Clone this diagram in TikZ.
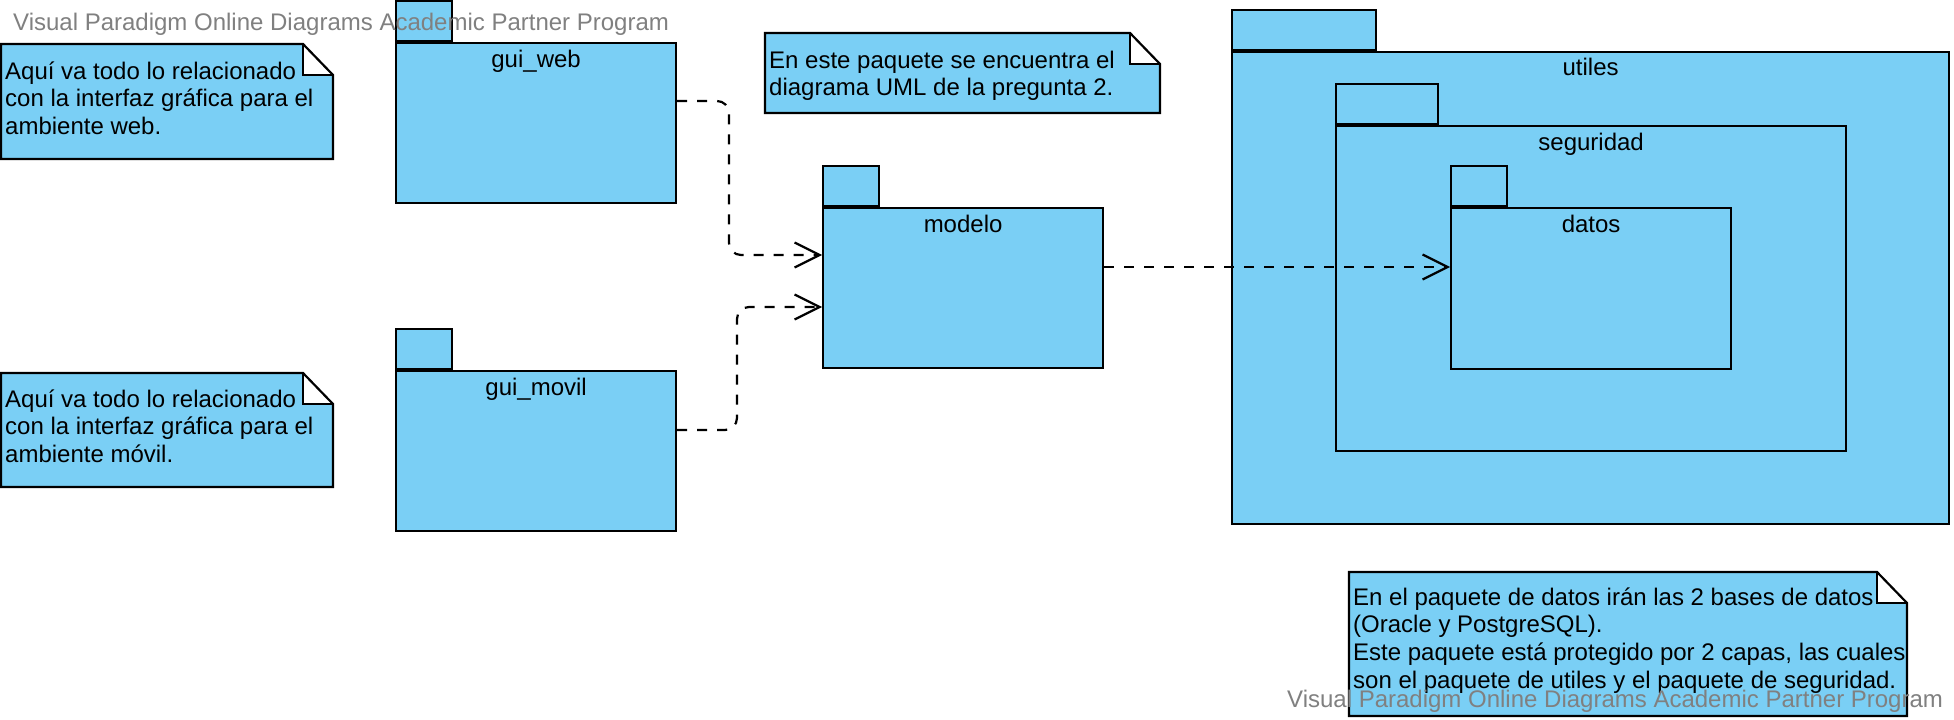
\documentclass[tikz,border=0pt]{standalone}
\usepackage{fontspec}
\setmainfont{Liberation Sans}
\usetikzlibrary{arrows.meta,calc}
\definecolor{pkgblue}{RGB}{122,207,245}
\definecolor{wmgray}{RGB}{128,128,128}
\tikzset{
  pkgbody/.style={draw=black, fill=pkgblue, line width=2.2pt, inner sep=0pt, anchor=north west},
  pkgtab/.style={draw=black, fill=pkgblue, line width=2.2pt, inner sep=0pt, anchor=south west, minimum height=40pt},
  pkglabel/.style={anchor=base, inner sep=0pt, font=\fontsize{24}{28}\selectfont},
  notetext/.style={anchor=base west, inner sep=0pt, align=left, font=\fontsize{24}{27.8}\selectfont},
  watermark/.style={anchor=base west, inner sep=0pt, text=wmgray, font=\fontsize{24}{28}\selectfont},
  dep/.style={draw=black, line width=2.2pt, dash pattern=on 10pt off 10pt, rounded corners=12pt, -{Straight Barb[length=25pt,width=25pt,line width=2.2pt]}},
  noteline/.style={draw=black, line width=2.2pt, line join=miter},
}
\newcommand\mynotebox[4]{%
  \fill[pkgblue] (#1,#2) -- ({#3-30},#2) -- ({#3-30},{#2+31}) -- (#3,{#2+31}) -- (#3,#4) -- (#1,#4) -- cycle;
  \draw[noteline] ({#3-30},#2) -- (#1,#2) -- (#1,#4) -- (#3,#4) -- (#3,{#2+31}) -- cycle;
  \draw[noteline] ({#3-30},#2) -- ({#3-30},{#2+31}) -- (#3,{#2+31});
}
\begin{document}
\begin{tikzpicture}[x=1pt,y=-1pt]
\fill[white] (0,0) rectangle (1954,720);
\useasboundingbox (0,0) rectangle (1954,720);

% notes (anchor = baseline of the last line)
\mynotebox{1}{44}{333}{159}
\node[notetext] (note1) at (5,134.6) {Aquí va todo lo relacionado\\con la interfaz gráfica para el\\ambiente web.};
\mynotebox{1}{373}{333}{487}
\node[notetext] (note2) at (5,462.6) {Aquí va todo lo relacionado\\con la interfaz gráfica para el\\ambiente móvil.};
\mynotebox{765}{33}{1160}{113}
\node[notetext] (note3) at (769,95.8) {En este paquete se encuentra el\\diagrama UML de la pregunta 2.};

% gui_web
\node[pkgbody, minimum width=280pt, minimum height=160pt] (guiweb) at (395,42) {};
\node[pkgtab, minimum width=56pt] (guiwebtab) at (guiweb.north west) {};
\node[pkglabel] (guiweblbl) at ($(guiweb.north)+(0,25)$) {gui\_web};

% gui_movil
\node[pkgbody, minimum width=280pt, minimum height=160pt] (guimovil) at (395,370) {};
\node[pkgtab, minimum width=56pt] (guimoviltab) at (guimovil.north west) {};
\node[pkglabel] (guimovillbl) at ($(guimovil.north)+(0,25)$) {gui\_movil};

% modelo
\node[pkgbody, minimum width=280pt, minimum height=160pt] (modelo) at (822,207) {};
\node[pkgtab, minimum width=56pt] (modelotab) at (modelo.north west) {};
\node[pkglabel] (modelolbl) at ($(modelo.north)+(0,25)$) {modelo};

% utiles
\node[pkgbody, minimum width=717pt, minimum height=472pt] (utiles) at (1231,51) {};
\node[pkgtab, minimum width=144pt] (utilestab) at (utiles.north west) {};
\node[pkglabel] (utileslbl) at ($(utiles.north)+(0,24)$) {utiles};

% seguridad
\node[pkgbody, minimum width=510pt, minimum height=325pt] (seguridad) at (1335,125) {};
\node[pkgtab, minimum width=102pt] (seguridadtab) at (seguridad.north west) {};
\node[pkglabel] (seguridadlbl) at ($(seguridad.north)+(0,25)$) {seguridad};

% datos
\node[pkgbody, minimum width=280pt, minimum height=161pt] (datos) at (1450,207) {};
\node[pkgtab, minimum width=56pt] (datostab) at (datos.north west) {};
\node[pkglabel] (datoslbl) at ($(datos.north)+(0,25)$) {datos};

% connectors
\draw[dep] ($(guiweb.north east)+(0,59)$) -- (729,101) -- (729,255) -- ($(modelo.north west)+(0,48)$);
\draw[dep] ($(guimovil.north east)+(0,60)$) -- (737,430) -- (737,307) -- ($(modelo.north west)+(0,100)$);
\draw[dep] ($(modelo.north east)+(0,60)$) -- ($(datos.north west)+(0,60)$);

% note 4
\mynotebox{1349}{572}{1907}{716}
\node[notetext] (note4) at (1353,688.4) {En el paquete de datos irán las 2 bases de datos\\(Oracle y PostgreSQL).\\Este paquete está protegido por 2 capas, las cuales\\son el paquete de utiles y el paquete de seguridad.};

% watermarks
\node[watermark] (wm1) at (13,30) {Visual Paradigm Online Diagrams Academic Partner Program};
\node[watermark] (wm2) at (1287,707) {Visual Paradigm Online Diagrams Academic Partner Program};
\end{tikzpicture}
\end{document}
